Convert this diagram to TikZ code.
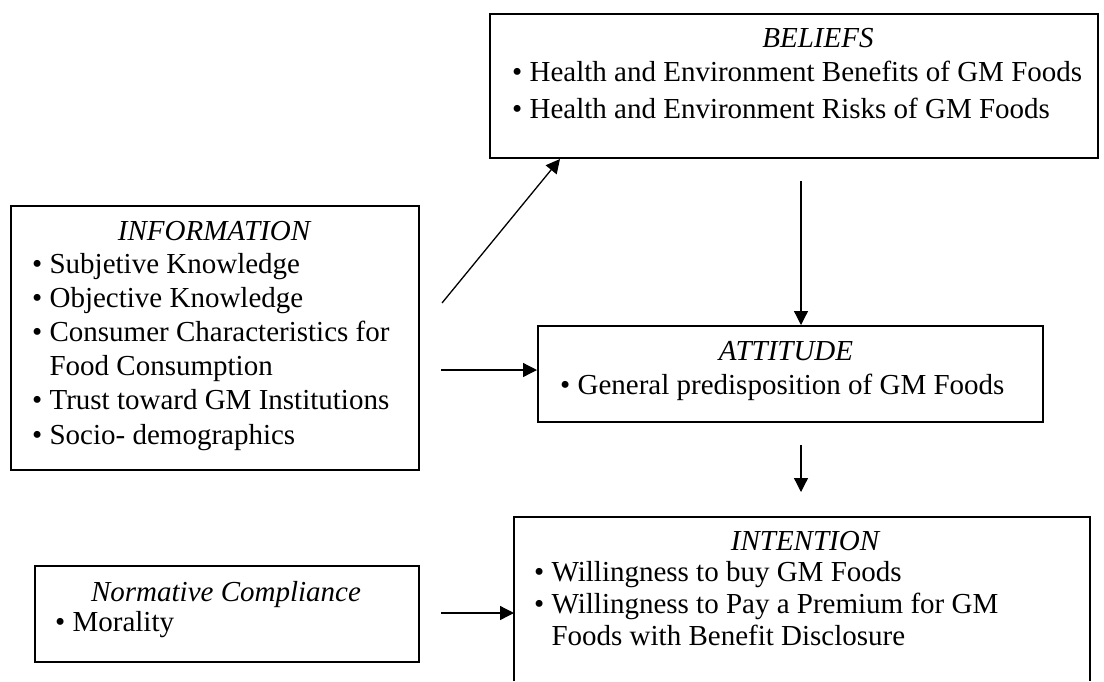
\documentclass[tikz,border=0pt]{standalone}
\usepackage{fontspec}
\setmainfont{Liberation Serif}
\usetikzlibrary{arrows.meta,calc}

\tikzset{
  box/.style={draw, line width=2pt, inner sep=0pt, anchor=north west},
  openbox/.style={inner sep=0pt, anchor=north west},
  txt/.style={anchor=base west, inner sep=0pt, font=\fontsize{29}{35}\selectfont},
  ttl/.style={anchor=base, inner sep=0pt, font=\fontsize{29}{35}\selectfont\itshape},
  conn/.style={line width=1.3pt, -{Triangle[length=14pt,width=14pt]}},
}

\begin{document}
\begin{tikzpicture}[x=1pt,y=-1pt]
  \fill[white] (0,0) rectangle (1104,681);
  \useasboundingbox (0,0) rectangle (1104,681);

  % boxes
  \node[box, minimum width=608pt, minimum height=144pt] (beliefs) at (489,13) {};
  \node[box, minimum width=408pt, minimum height=264pt] (info) at (10,205) {};
  \node[box, minimum width=505pt, minimum height=96pt] (attitude) at (537,325) {};
  \node[box, minimum width=384pt, minimum height=96pt] (norm) at (34,565) {};
  \node[openbox, minimum width=576pt, minimum height=164pt] (intention) at (514,517) {};
  \draw[line width=2pt] (intention.south west) -- (intention.north west)
        -- (intention.north east) -- (intention.south east);

  % BELIEFS
  \node[ttl] (bt) at (818,47) {BELIEFS};
  \node[txt] (b1) at (512,81) {• Health and Environment Benefits of GM Foods};
  \node[txt] (b2) at (512,118) {• Health and Environment Risks of GM Foods};

  % INFORMATION
  \node[ttl] (it) at (214,240) {INFORMATION};
  \node[txt] (i1) at (32,273) {• Subjetive Knowledge};
  \node[txt] (i2) at (32,307) {• Objective Knowledge};
  \node[txt] (i3) at (32,341) {• Consumer Characteristics for};
  \node[txt] (i4) at (32,375) {\phantom{•} Food Consumption};
  \node[txt] (i5) at (32,409) {• Trust toward GM Institutions};
  \node[txt] (i6) at (32,444) {• Socio- demographics};

  % ATTITUDE
  \node[ttl] (at) at (786,360) {ATTITUDE};
  \node[txt] (a1) at (560,394) {• General predisposition of GM Foods};

  % Normative Compliance
  \node[ttl] (nt) at (226,601) {Normative Compliance};
  \node[txt] (n1) at (55,631) {• Morality};

  % INTENTION
  \node[ttl] (nt2) at (805,550) {INTENTION};
  \node[txt] (w1) at (534,581) {• Willingness to buy GM Foods};
  \node[txt] (w2) at (534,613) {• Willingness to Pay a Premium for GM};
  \node[txt] (w3) at (534,645) {\phantom{•} Foods with Benefit Disclosure};

  % connectors
  \coordinate (d0) at (442,303);
  \draw[conn] (d0) -- ($(beliefs.south west)+(71,0)$);
  \coordinate (h0) at (441,370);
  \draw[conn] (h0) -- (h0 -| attitude.west);
  \coordinate (v1) at (801,181);
  \draw[conn] (v1) -- (v1 |- attitude.north);
  \coordinate (v2) at (801,445);
  \coordinate (v2e) at (801,492);
  \draw[conn] (v2) -- (v2e);
  \coordinate (m0) at (441,613);
  \draw[conn] (m0) -- (m0 -| intention.west);
\end{tikzpicture}
\end{document}
